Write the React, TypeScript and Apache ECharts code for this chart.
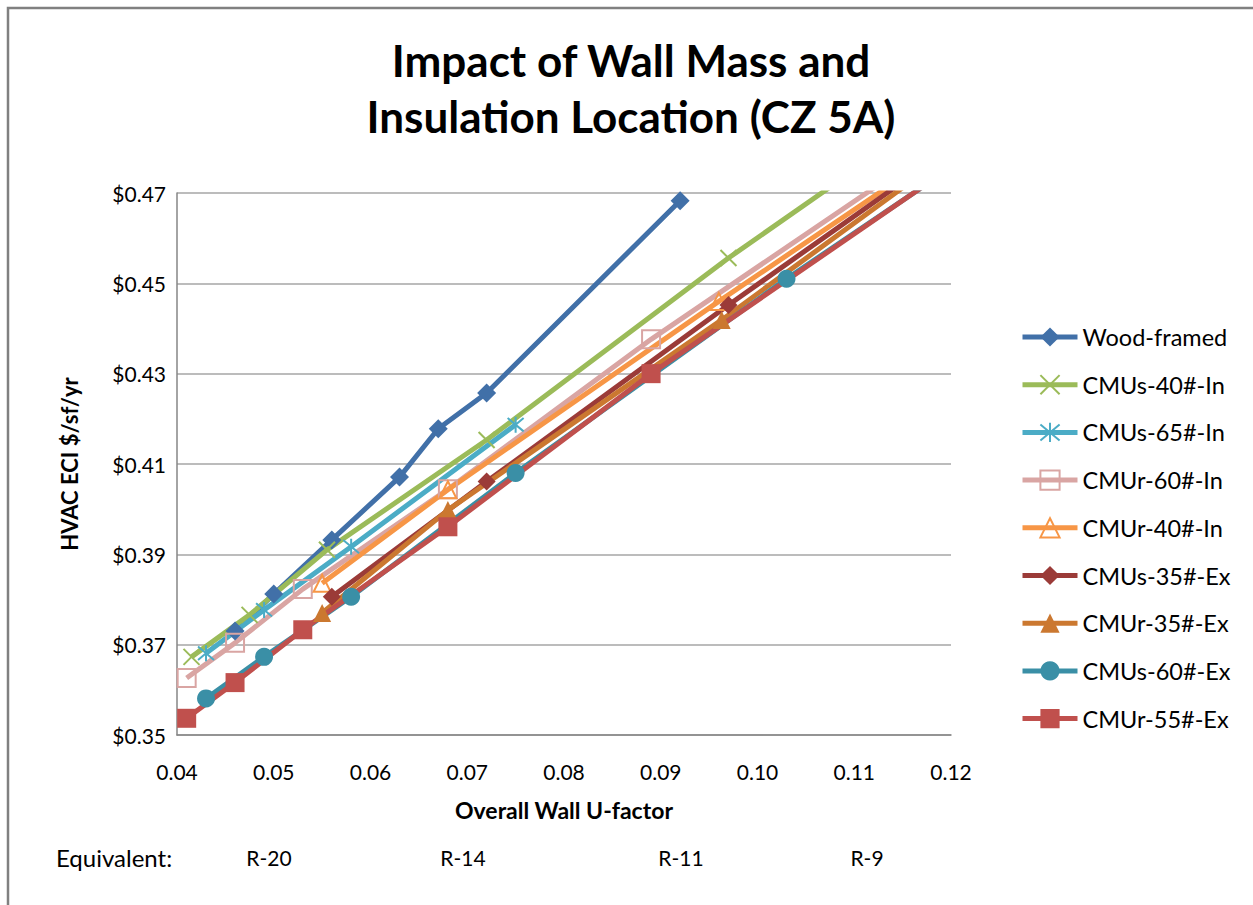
import React, { useEffect, useRef } from "react";
import * as echarts from "echarts";

const seriesNames = [
  "Wood-framed",
  "CMUs-40#-In",
  "CMUs-65#-In",
  "CMUr-60#-In",
  "CMUr-40#-In",
  "CMUs-35#-Ex",
  "CMUr-35#-Ex",
  "CMUs-60#-Ex",
  "CMUr-55#-Ex",
];

// [U-factor, HVAC ECI $/sf/yr]
const woodFramed = [[0.046, 0.373], [0.050, 0.3812], [0.056, 0.3932], [0.063, 0.4071], [0.067, 0.4178], [0.072, 0.4257], [0.092, 0.4683]];
const cmus40In = [[0.0415, 0.3673], [0.0475, 0.3766], [0.0555, 0.391], [0.072, 0.4153], [0.097, 0.4556], [0.12, 0.490]];
const cmus65In = [[0.043, 0.3681], [0.049, 0.3777], [0.058, 0.3917], [0.075, 0.4187]];
const cmur60In = [[0.041, 0.3626], [0.046, 0.3704], [0.053, 0.3823], [0.068, 0.4044], [0.089, 0.4376], [0.12, 0.4827]];
const cmur40In = [[0.055, 0.3836], [0.068, 0.4043], [0.096, 0.446], [0.12, 0.4808]];
const cmus35Ex = [[0.056, 0.3806], [0.072, 0.4061], [0.097, 0.4452], [0.12, 0.480]];
const cmur35Ex = [[0.055, 0.377], [0.068, 0.3998], [0.0963, 0.4419], [0.12, 0.479]];
const cmus60Ex = [[0.043, 0.3581], [0.049, 0.3673], [0.058, 0.3806], [0.075, 0.408], [0.103, 0.451], [0.12, 0.4756]];
const cmur55Ex = [[0.041, 0.3537], [0.046, 0.3616], [0.053, 0.3733], [0.068, 0.3961], [0.089, 0.430], [0.12, 0.4757]];

const equivalentLabels = ["R-20", "R-14", "R-11", "R-9"];

const FONT = "Lato, 'Open Sans', sans-serif";

export default function App() {
  const ref = useRef<HTMLDivElement>(null);

  useEffect(() => {
    if (!ref.current) return;
    const chart = echarts.init(ref.current, null, { renderer: "svg" });

    const crossPath = "path://M0,0L10,10M10,0L0,10";
    const starPath = "path://M0,0L10,10M10,0L0,10M5,-1L5,11";

    const mk = (
      name: string,
      data: number[][],
      color: string,
      symbol: string,
      size: number,
      hollow = false
    ) => ({
      name,
      type: "line",
      data,
      symbol,
      symbolSize: size,
      showAllSymbol: true,
      clip: true,
      lineStyle: { color, width: 5 },
      itemStyle: hollow
        ? { color: "rgba(255,255,255,0)", borderColor: color, borderWidth: 2 }
        : { color, borderColor: color, borderWidth: 0 },
      emphasis: { disabled: true },
    });

    const datasets = [woodFramed, cmus40In, cmus65In, cmur60In, cmur40In, cmus35Ex, cmur35Ex, cmus60Ex, cmur55Ex];
    const colors = ["#4170A8", "#9BBB59", "#4BACC6", "#D9A5A3", "#F79646", "#9B3B38", "#CB7830", "#3A8FA6", "#C0504D"];
    const symbols = ["diamond", crossPath, starPath, "rect", "triangle", "diamond", "triangle", "circle", "rect"];
    const sizes = [19, 16, 16, 18, 17, 18, 18, 18, 19];
    const hollows = [false, true, true, true, true, false, false, false, false];

    const series = datasets.map((d, i) => mk(seriesNames[i], d, colors[i], symbols[i], sizes[i], hollows[i]));

    const eqX = [269, 463, 681, 867];

    chart.setOption({
      animation: false,
      backgroundColor: "#ffffff",
      textStyle: { fontFamily: FONT },
      grid: { left: 177, top: 193, right: 302, bottom: 170, containLabel: false },
      xAxis: {
        type: "value",
        min: 0.04,
        max: 0.12,
        interval: 0.01,
        name: "Overall Wall U-factor",
        nameLocation: "middle",
        nameGap: 63,
        nameTextStyle: { fontFamily: FONT, fontSize: 23, fontWeight: "bold", color: "#000" },
        axisLine: { show: true, lineStyle: { color: "#868686", width: 1.5 } },
        axisTick: { show: false },
        axisLabel: {
          margin: 26,
          fontFamily: FONT,
          fontSize: 21,
          color: "#000",
          formatter: (v: number) => v.toFixed(2),
        },
        splitLine: { show: false },
      },
      yAxis: {
        type: "value",
        min: 0.35,
        max: 0.47,
        interval: 0.02,
        name: "HVAC ECI $/sf/yr",
        nameLocation: "middle",
        nameGap: 97,
        nameTextStyle: { fontFamily: FONT, fontSize: 22, fontWeight: "bold", color: "#000" },
        axisLine: { show: true, lineStyle: { color: "#868686", width: 1.5 } },
        axisTick: { show: false },
        axisLabel: {
          margin: 11,
          fontFamily: FONT,
          fontSize: 21,
          color: "#000",
          formatter: (v: number) => "$" + v.toFixed(2),
        },
        splitLine: { show: true, lineStyle: { color: "#A6A6A6", width: 1.5 } },
      },
      legend: {
        orient: "vertical",
        left: 1020,
        top: 325,
        padding: 0,
        itemWidth: 55,
        itemHeight: 24,
        itemGap: 23.7,
        data: seriesNames,
        lineStyle: { width: 5 },
        textStyle: { fontFamily: FONT, fontSize: 23.5, color: "#000" },
      },
      graphic: [
        {
          type: "rect",
          shape: { x: 8, y: 8, width: 1400, height: 1200 },
          style: { fill: "none", stroke: "#808080", lineWidth: 2.5 },
          silent: true,
        },
        {
          type: "text",
          x: 631,
          y: 60,
          style: {
            text: "Impact of Wall Mass and",
            fontFamily: FONT,
            fontSize: 44,
            fontWeight: "bold",
            fill: "#000",
            align: "center",
            verticalAlign: "middle",
          },
        },
        {
          type: "text",
          x: 631,
          y: 116,
          style: {
            text: "Insulation Location (CZ 5A)",
            fontFamily: FONT,
            fontSize: 44,
            fontWeight: "bold",
            fill: "#000",
            align: "center",
            verticalAlign: "middle",
          },
        },
        {
          type: "text",
          x: 56,
          y: 857,
          style: {
            text: "Equivalent:",
            fontFamily: FONT,
            fontSize: 24,
            fill: "#000",
            align: "left",
            verticalAlign: "middle",
          },
        },
        ...equivalentLabels.map((t, i) => ({
          type: "text",
          x: eqX[i],
          y: 857,
          style: {
            text: t,
            fontFamily: FONT,
            fontSize: 21,
            fill: "#000",
            align: "center",
            verticalAlign: "middle",
          },
        })),
      ],
      series,
    });

    return () => chart.dispose();
  }, []);

  return (
    <div
      ref={ref}
      style={{ position: "absolute", left: 0, top: 0, width: 1253, height: 905 }}
    />
  );
}
